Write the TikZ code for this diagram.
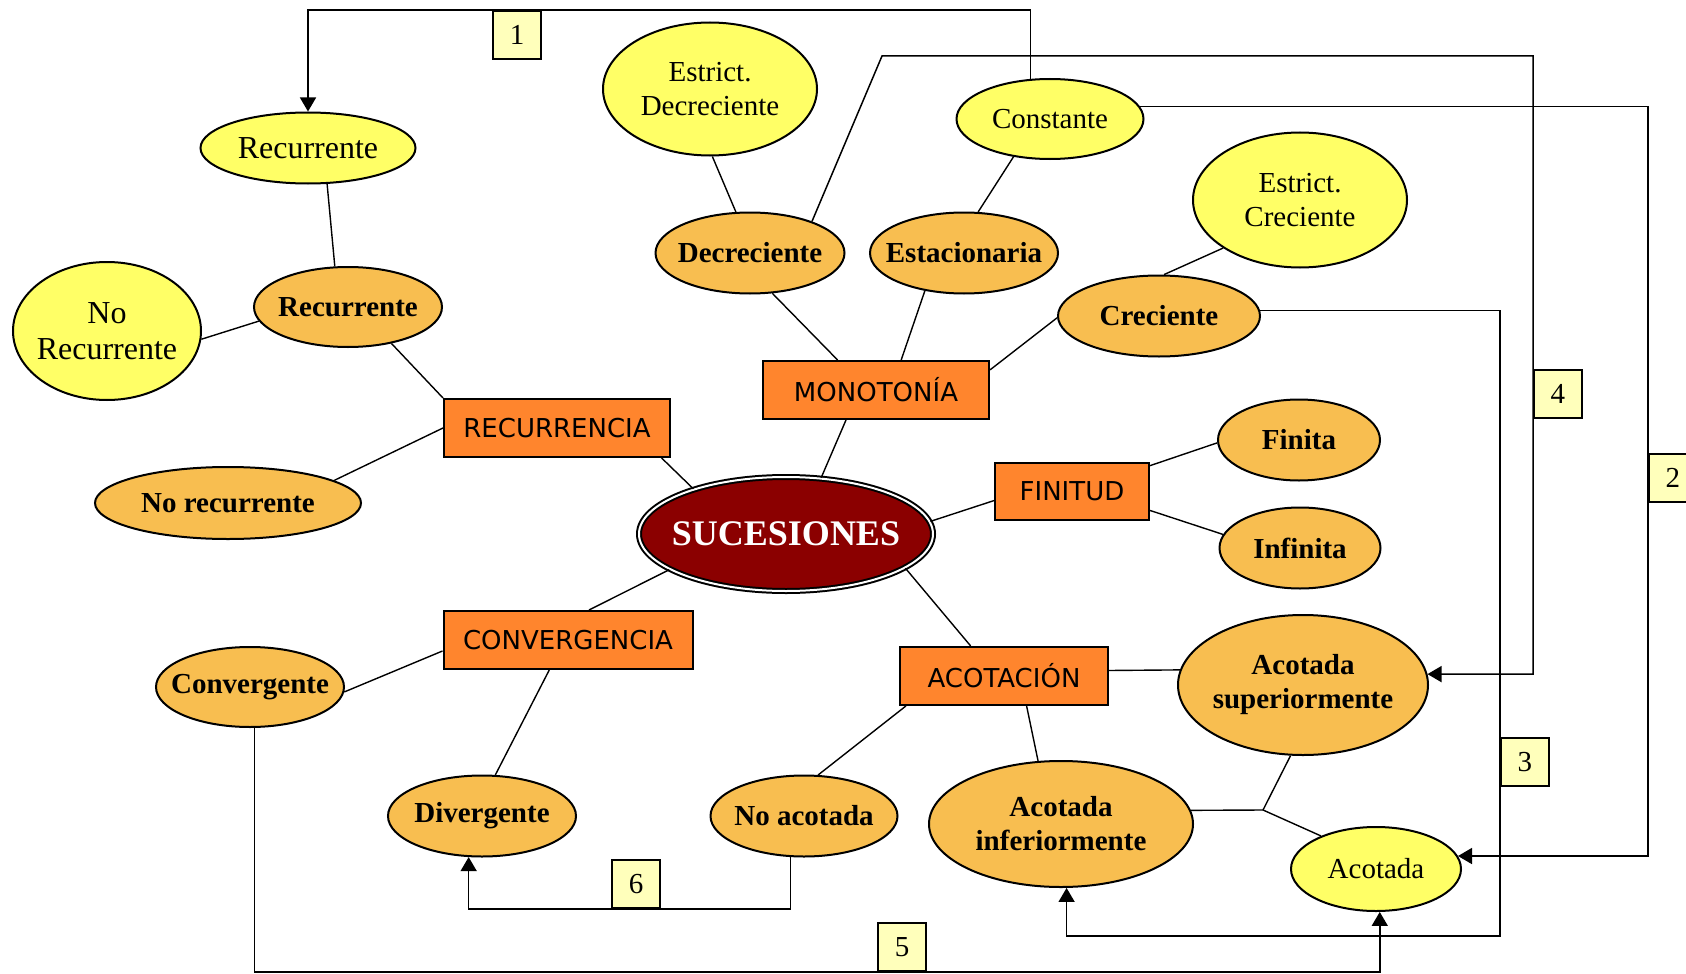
\documentclass[tikz,border=0pt]{standalone}
\usepackage{fontspec}
\setmainfont{Liberation Serif}
\newfontfamily\catfont{DejaVu Sans}
\usetikzlibrary{shapes.geometric,arrows.meta}
\definecolor{lightyel}{RGB}{255,255,102}
\definecolor{ambar}{RGB}{248,190,80}
\definecolor{catorange}{RGB}{255,133,45}
\definecolor{numyel}{RGB}{255,255,187}
\definecolor{granate}{RGB}{139,0,0}

\begin{document}
\begin{tikzpicture}[x=0.5pt,y=-0.5pt,
  sz/.style 2 args={minimum width={#1*0.5pt},minimum height={#2*0.5pt}},
  basenode/.style={draw=black,line width=1pt,inner sep=0pt,align=center},
  oval/.style={basenode,ellipse,inner xsep=-14pt,inner ysep=-2pt},
  leaf/.style={oval,fill=lightyel,font=\fontsize{14.5}{17}\selectfont},
  bigleaf/.style={leaf,font=\fontsize{16}{18}\selectfont},
  sub/.style={oval,fill=ambar,font=\fontsize{14.5}{17}\selectfont\bfseries},
  cat/.style={basenode,rectangle,fill=catorange,font=\catfont\fontsize{13}{15}\selectfont},
  num/.style={draw=black,line width=0.8pt,fill=numyel,minimum size=24pt,inner sep=0pt,font=\fontsize{14.5}{17}\selectfont},
  link/.style={line width=0.7pt},
  arr/.style={line width=0.75pt,-{Triangle[length=7pt,width=8pt]}}
]
\fill[white] (0,0) rectangle (1686,974);
\useasboundingbox (0,0) rectangle (1686,974);

% central concept
\node[ellipse,sz={294}{114},inner xsep=-20pt,inner ysep=0pt,fill=granate,draw=black,line width=1pt,
      double=white,double distance=1pt,
      text=white,font=\fontsize{18}{20}\selectfont\bfseries] (SUC) at (786,534) {SUCESIONES};

% categories
\node[cat,sz={226}{58}] (RECU) at (557,428) {RECURRENCIA};
\node[cat,sz={226}{58}] (MONO) at (876,390) {MONOTONÍA};
\node[cat,sz={154}{57}] (FIN)  at (1072,491) {FINITUD};
\node[cat,sz={249}{58}] (CONV) at (568,640) {CONVERGENCIA};
\node[cat,sz={208}{58}] (ACOT) at (1004,676) {ACOTACIÓN};

% classes
\node[sub,sz={188}{80}]  (rec2)  at (348,307) {Recurrente};
\node[sub,sz={266}{72}]  (norec) at (228,503) {No recurrente};
\node[sub,sz={189}{81}]  (decr)  at (750,253) {Decreciente};
\node[sub,sz={188}{81}]  (esta)  at (964,253) {Estacionaria};
\node[sub,sz={202}{81}]  (cre)   at (1159,316) {Creciente};
\node[sub,sz={162}{81}]  (fin)   at (1299,440) {Finita};
\node[sub,sz={161}{81}]  (inf)   at (1300,548) {Infinita};
\node[sub,sz={250}{140}] (asup)  at (1303,685) {Acotada\\superiormente};
\node[sub,sz={264}{126}] (ainf)  at (1061,824) {Acotada\\inferiormente};
\node[sub,sz={187}{81}]  (noac)  at (804,816) {No acotada};
\node[sub,sz={188}{81}]  (div)   at (482,816) {Divergente};
\node[sub,sz={188}{80}]  (conv)  at (250,687) {Convergente};

% derived notions
\node[bigleaf,sz={215}{71}]  (rec1) at (308,148) {Recurrente};
\node[bigleaf,sz={188}{138}] (nore) at (107,331) {No\\Recurrente};
\node[leaf,sz={214}{133}]    (estd) at (710,89) {Estrict.\\Decreciente};
\node[leaf,sz={187}{80}]     (cons) at (1050,119) {Constante};
\node[leaf,sz={214}{135}]    (estc) at (1300,200) {Estrict.\\Creciente};
\node[leaf,sz={170}{84}]     (acot) at (1376,869) {Acotada};

% numbered tags
\node[num,anchor=north] (n1) at (517,10) {1};
\node[num,anchor=west]  (n2) at (1648,478) {2};
\node[num,anchor=west]  (n3) at (1500,762) {3};
\node[num,anchor=west]  (n4) at (1533,394) {4};
\node[num,anchor=south] (n5) at (902,972) {5};
\node[num,anchor=south] (n6) at (636,909) {6};

% tree links
\draw[link] (rec1.-62) -- (rec2.108);
\draw[link] (nore.-5) -- (rec2.189);
\draw[link] (rec2.-40) -- (RECU.north west);
\draw[link] (norec.12) -- (RECU.west);
\draw[link] (RECU.-16) -- (SUC.154);
\draw[link] (estd.-88) -- (decr.109);
\draw[link] (cons.-134) -- (esta.71);
\draw[link] (estc.-148) -- (cre.83);
\draw[link] (decr.-61) -- (MONO.142);
\draw[link] (esta.-136) -- (MONO.50);
\draw[link] (cre.181) -- (MONO.10);
\draw[link] (MONO.-135) -- (SUC.58);
\draw[link] (SUC.5) -- (FIN.187);
\draw[link] (FIN.18) -- (fin.182);
\draw[link] (FIN.-14) -- (inf.170);
\draw[link] (SUC.-16) -- (ACOT.138);
\draw[link] (ACOT.3) -- (asup.173);
\draw[link] (ACOT.-53) -- (ainf.110);
\draw[link] (ACOT.-163) -- (noac.71);
\coordinate (jn) at (1263,810);
\draw[link] (asup.-100) -- (jn);
\draw[link] (ainf.6) -- (jn) -- (acot.149);
\draw[link] (SUC.197) -- (CONV.55);
\draw[link] (CONV.185) -- (conv.-3);
\draw[link] (CONV.-122) -- (div.72);

% numbered relations
\draw[arr] (cons.116) |- (n1.north) -| (rec1.north);
\draw[arr] (cons.8) -| (n2.west) |- (acot.9);
\coordinate (k3) at (1500,936);
\draw[arr] (cre.3) -| (k3) -| (ainf.-85);
\coordinate (k4) at (882,56);
\draw[arr] (decr.27) -- (k4) -| (n4.west) |- (asup.5);
\draw[arr] (conv.-84) |- (n5.south) -| (acot.-85);
\draw[arr] (noac.-108) |- (n6.south) -| (div.-108);
\end{tikzpicture}
\end{document}
